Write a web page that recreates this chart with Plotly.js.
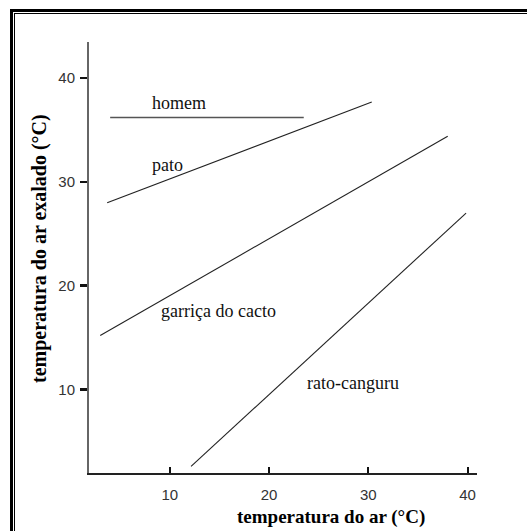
<!DOCTYPE html>
<html>
<head>
<meta charset="utf-8">
<script src="https://cdn.plot.ly/plotly-3.0.1.min.js"></script>
<style>
  html, body { margin:0; padding:0; background:#fff; }
  #wrap { position:relative; width:527px; height:531px; overflow:hidden; }
  #chart { position:absolute; left:0; top:0; width:527px; height:531px; }
  .fr { position:absolute; background:#000; }
</style>
</head>
<body>
<div id="wrap">
  <div id="chart"></div>
  <div class="fr" style="left:10px; top:9px; width:517px; height:3px;"></div>
  <div class="fr" style="left:10px; top:9px; width:3px; height:522px;"></div>
  <div class="fr" style="left:14px; top:13px; width:513px; height:1px;"></div>
  <div class="fr" style="left:14px; top:13px; width:1px; height:518px;"></div>
</div>
<script>
// Series (air temperature °C -> exhaled air temperature °C), endpoints
const seriesNames = ["homem", "pato", "garriça do cacto", "rato-canguru"];
const homemX = [4.0, 23.5];
const homemY = [36.2, 36.2];
const patoX = [3.7, 30.35];
const patoY = [28.0, 37.7];
const garricaX = [3.0, 38.0];
const garricaY = [15.2, 34.4];
const ratoX = [12.15, 39.85];
const ratoY = [2.6, 27.0];

// label positions (data coords)
const labelX = [10.9, 9.75, 14.9, 28.5];
const labelY = [37.6, 31.6, 17.6, 10.6];

const tickVals = [10, 20, 30, 40];
const xTitle = "temperatura do ar (°C)";
const yTitle = "temperatura do ar exalado (°C)";

const xs = [homemX, patoX, garricaX, ratoX];
const ys = [homemY, patoY, garricaY, ratoY];
const colors = ["#555555", "#222222", "#222222", "#222222"];
const widths = [1.6, 1.1, 1.1, 1.1];

const traces = xs.map((x, i) => ({
  x: x, y: ys[i], type: "scatter", mode: "lines", name: seriesNames[i],
  line: { color: colors[i], width: widths[i] }, hoverinfo: "skip"
}));

const labelAnn = seriesNames.map((n, i) => ({
  x: labelX[i], y: labelY[i], xref: "x", yref: "y", text: n, showarrow: false,
  font: { family: "Liberation Serif, Times New Roman, serif", size: 18, color: "#111" },
  xanchor: "center", yanchor: "middle"
}));

const titleFont = { family: "Liberation Serif, Times New Roman, serif", size: 19, color: "#000", weight: "bold" };

const annotations = labelAnn.concat([
  { x: 0.624, y: -0.101, xref: "paper", yref: "paper", text: "<b>" + xTitle + "</b>", showarrow: false,
    font: titleFont, xanchor: "center", yanchor: "middle" },
  { x: -0.129, y: 0.522, xref: "paper", yref: "paper", text: "<b>" + yTitle + "</b>", showarrow: false,
    font: { family: titleFont.family, size: 20, color: "#000", weight: "bold" },
    xanchor: "center", yanchor: "middle", textangle: -90 }
]);

const tickFont = { family: "Liberation Sans, Arial, sans-serif", size: 15, color: "#333" };

const layout = {
  width: 527, height: 531,
  margin: { l: 89, r: 50, t: 42, b: 58, pad: 0 },
  paper_bgcolor: "#ffffff", plot_bgcolor: "#ffffff",
  showlegend: false,
  xaxis: {
    range: [1.87, 40.95], tickvals: tickVals, ticks: "inside", ticklen: 6, tickwidth: 2, tickcolor: "#111",
    showline: true, linecolor: "#222", linewidth: 1.6, showgrid: false, zeroline: false,
    tickfont: tickFont, ticklabelstandoff: 7, fixedrange: true
  },
  yaxis: {
    range: [1.96, 43.48], tickvals: tickVals, ticks: "outside", ticklen: 7, tickwidth: 2.5, tickcolor: "#111",
    showline: true, linecolor: "#666", linewidth: 2, showgrid: false, zeroline: false,
    tickfont: tickFont, ticklabelstandoff: 2, fixedrange: true
  },
  annotations: annotations
};

Plotly.newPlot("chart", traces, layout, { displayModeBar: false, staticPlot: true });
</script>
</body>
</html>
